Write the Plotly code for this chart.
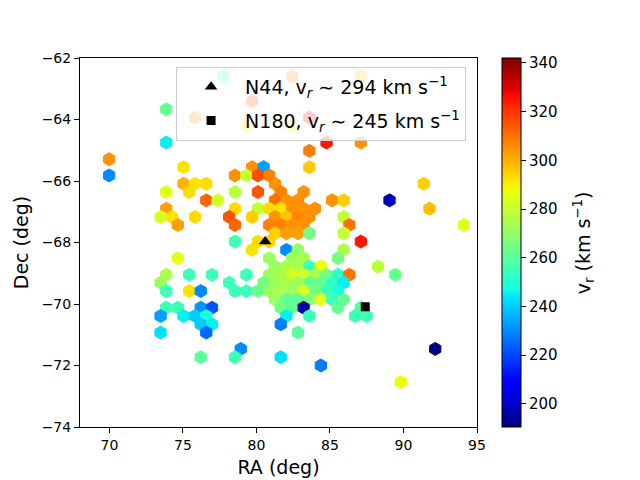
import plotly.graph_objects as go

# hexbin cells: RA (deg), Dec (deg), mean radial velocity (km/s)
ra = [
    77.76, 82.43, 87.10,
    79.71,
    73.87,
    75.82, 83.60,
    79.32, 82.43,
    73.87, 84.77, 87.10,
    83.60,
    69.98,
    75.04, 79.71, 80.49, 83.60,
    69.98, 78.54, 79.32, 80.10, 80.87,
    75.04, 75.82, 76.59, 81.26, 91.38,
    73.87, 75.43, 78.54, 80.10, 81.65, 83.21,
    76.59, 77.37, 81.26, 82.04, 82.82, 85.15, 85.93, 89.05,
    73.87, 78.54, 80.10, 80.87, 81.65, 82.43, 83.21, 83.99, 91.77,
    73.48, 74.26, 75.82, 78.15, 79.71, 81.26, 82.04, 82.82, 83.60, 85.93,
    74.65, 78.54, 80.87, 81.65, 82.43, 83.21, 86.32, 94.10,
    81.26, 82.04, 82.82, 83.60, 85.93,
    78.54, 80.10, 80.87, 87.10,
    79.71, 82.04, 82.82, 85.93,
    74.65, 80.87, 82.43, 83.21, 85.54,
    81.26, 82.04, 82.82, 83.60, 84.38, 88.27,
    73.87, 75.43, 76.98, 79.32, 80.87, 81.65, 82.43, 83.21, 83.99, 84.77, 85.54, 86.32, 89.44,
    73.48, 78.15, 80.49, 81.26, 82.04, 82.82, 83.60, 84.38, 85.15, 85.93,
    73.87, 75.43, 76.21, 78.54, 79.32, 80.10, 80.87, 81.65, 82.43, 83.21, 83.99, 84.77, 85.54,
    81.26, 82.04, 82.82, 83.60, 84.38, 85.15, 85.93,
    73.87, 74.65, 76.21, 76.98, 81.65, 82.43, 83.21, 85.54, 87.10,
    73.48, 75.04, 75.82, 76.59, 82.04, 83.60, 86.71, 87.49,
    76.21, 76.98, 81.65,
    73.48, 76.59, 82.82,
    78.93, 92.16,
    76.21, 78.54, 81.65,
    84.38,
    89.82,
]
dec = [
    -62.60, -62.60, -62.60,
    -63.40,
    -63.67,
    -63.94, -63.94,
    -64.21, -64.21,
    -64.75, -64.75, -64.75,
    -65.02,
    -65.29,
    -65.55, -65.55, -65.55, -65.55,
    -65.82, -65.82, -65.82, -65.82, -65.82,
    -66.09, -66.09, -66.09, -66.09, -66.09,
    -66.36, -66.36, -66.36, -66.36, -66.36, -66.36,
    -66.63, -66.63, -66.63, -66.63, -66.63, -66.63, -66.63, -66.63,
    -66.90, -66.90, -66.90, -66.90, -66.90, -66.90, -66.90, -66.90, -66.90,
    -67.17, -67.17, -67.17, -67.17, -67.17, -67.17, -67.17, -67.17, -67.17, -67.17,
    -67.43, -67.43, -67.43, -67.43, -67.43, -67.43, -67.43, -67.43,
    -67.70, -67.70, -67.70, -67.70, -67.70,
    -67.97, -67.97, -67.97, -67.97,
    -68.24, -68.24, -68.24, -68.24,
    -68.51, -68.51, -68.51, -68.51, -68.51,
    -68.78, -68.78, -68.78, -68.78, -68.78, -68.78,
    -69.05, -69.05, -69.05, -69.05, -69.05, -69.05, -69.05, -69.05, -69.05, -69.05, -69.05, -69.05, -69.05,
    -69.31, -69.31, -69.31, -69.31, -69.31, -69.31, -69.31, -69.31, -69.31, -69.31,
    -69.58, -69.58, -69.58, -69.58, -69.58, -69.58, -69.58, -69.58, -69.58, -69.58, -69.58, -69.58, -69.58,
    -69.85, -69.85, -69.85, -69.85, -69.85, -69.85, -69.85,
    -70.12, -70.12, -70.12, -70.12, -70.12, -70.12, -70.12, -70.12, -70.12,
    -70.39, -70.39, -70.39, -70.39, -70.39, -70.39, -70.39, -70.39,
    -70.66, -70.66, -70.66,
    -70.93, -70.93, -70.93,
    -71.46, -71.46,
    -71.73, -71.73, -71.73,
    -72.00,
    -72.54,
]
vr = [
    255, 305, 298,
    315,
    262,
    305, 328,
    290, 290,
    245, 325, 305,
    308,
    305,
    292, 305, 233, 296,
    230, 305, 280, 316, 308,
    300, 292, 293, 305, 295,
    285, 293, 278, 315, 308, 305,
    312, 282, 310, 305, 305, 305, 295, 198,
    303, 293, 280, 293, 292, 305, 305, 305, 298,
    283, 292, 293, 315, 295, 305, 297, 307, 305, 280,
    303, 312, 308, 308, 305, 305, 310, 285,
    295, 303, 303, 265, 280,
    255, 293, 295, 325,
    292, 230, 270, 275,
    285, 272, 272, 275, 265,
    272, 275, 275, 255, 287, 278,
    275, 255, 255, 255, 272, 275, 283, 282, 275, 265, 252, 310, 262,
    272, 255, 265, 272, 275, 272, 262, 262, 252, 245,
    255, 292, 230, 255, 255, 263, 272, 275, 272, 283, 265, 255, 248,
    272, 262, 262, 268, 285, 255, 262,
    255, 255, 232, 222, 265, 262, 195, 262, 258,
    233, 245, 240, 248, 245, 255, 255, 255,
    240, 245, 228,
    243, 225, 260,
    230, 190,
    260, 255, 243,
    228,
    287,
]

# reference regions
n44_ra, n44_dec = [80.59], [-67.97]
n180_ra, n180_dec = [87.40], [-70.09]

# matplotlib "jet"
jet = [
    [0.0, "rgb(0,0,128)"], [0.11, "rgb(0,0,255)"], [0.125, "rgb(0,0,255)"],
    [0.34, "rgb(0,219,255)"], [0.35, "rgb(0,229,247)"], [0.375, "rgb(20,255,226)"],
    [0.64, "rgb(239,255,8)"], [0.65, "rgb(247,245,0)"], [0.66, "rgb(255,236,0)"],
    [0.89, "rgb(255,19,0)"], [0.91, "rgb(232,0,0)"], [1.0, "rgb(128,0,0)"],
]
vmin, vmax = 190.5, 342

font = "DejaVu Sans"

fig = go.Figure()
fig.add_trace(go.Scatter(
    x=ra, y=dec, mode="markers", showlegend=False, hoverinfo="skip",
    marker=dict(
        symbol="hexagon", size=13, color=vr, colorscale=jet, cmin=vmin, cmax=vmax,
        line=dict(width=1, color=vr, colorscale=jet, cmin=vmin, cmax=vmax),
        colorbar=dict(
            x=1.063, xanchor="left", xpad=0, y=0.5, yanchor="middle", ypad=0,
            len=1, lenmode="fraction", thickness=19,
            outlinewidth=1, outlinecolor="black",
            ticks="outside", ticklen=5, tickwidth=1, tickcolor="black",
            tickvals=[200, 220, 240, 260, 280, 300, 320, 340],
            tickfont=dict(size=15, color="black", family=font),
        ),
    ),
))
fig.add_trace(go.Scatter(
    x=n44_ra, y=n44_dec, mode="markers", legendgroup="a",
    name="N44, v<sub><i>r</i></sub> ∼ 294 km s<sup>−1</sup>",
    marker=dict(symbol="triangle-up", size=11, color="black"),
))
fig.add_trace(go.Scatter(
    x=n180_ra, y=n180_dec, mode="markers", legendgroup="b",
    name="N180, v<sub><i>r</i></sub> ∼ 245 km s<sup>−1</sup>",
    marker=dict(symbol="square", size=9, color="black"),
))

axis = dict(
    showline=True, mirror=True, linecolor="black", linewidth=1,
    ticks="outside", ticklen=5, tickwidth=1, tickcolor="black",
    showgrid=False, zeroline=False, automargin=False,
    tickfont=dict(size=14, color="black", family=font),
)
fig.update_layout(
    width=632, height=472,
    margin=dict(l=72, r=163, t=50, b=53),
    paper_bgcolor="white", plot_bgcolor="white",
    font=dict(family=font, color="black"),
    xaxis=dict(axis, range=[68, 95], tickvals=[70, 75, 80, 85, 90, 95],
               title=dict(text="RA (deg)", font=dict(size=19), standoff=8)),
    yaxis=dict(axis, range=[-74, -62], tickvals=[-74, -72, -70, -68, -66, -64, -62],
               title=dict(text="Dec (deg)", font=dict(size=19), standoff=8)),
    legend=dict(
        x=0.242, y=0.976, xanchor="left", yanchor="top", itemwidth=58,
        bgcolor="rgba(255,255,255,0.8)", bordercolor="#cccccc", borderwidth=1,
        font=dict(size=19, color="black", family=font), tracegroupgap=6,
    ),
    annotations=[dict(
        text="v<sub>r</sub> (km s<sup>−1</sup>)", textangle=-90, showarrow=False,
        xref="paper", yref="paper", x=1.269, y=0.5, xanchor="center", yanchor="middle",
        font=dict(size=19, color="black", family=font),
    )],
)

fig.write_html("out.html")
